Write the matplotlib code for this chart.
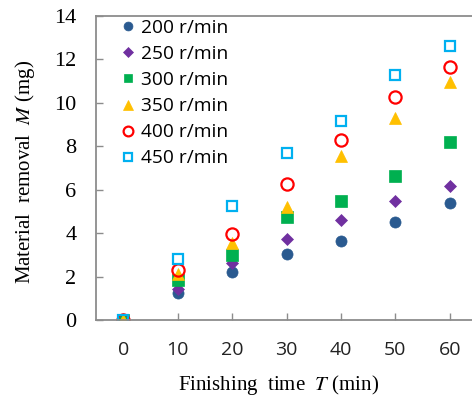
import matplotlib
matplotlib.use("Agg")
import matplotlib.pyplot as plt

times = [0, 10, 20, 30, 40, 50, 60]
labels = ["200 r/min", "250 r/min", "300 r/min", "350 r/min", "400 r/min", "450 r/min"]
m200 = [0, 1.23, 2.23, 3.04, 3.62, 4.53, 5.40]
m250 = [0, 1.41, 2.61, 3.72, 4.61, 5.47, 6.17]
m300 = [0, 1.84, 2.99, 4.76, 5.47, 6.65, 8.18]
m350 = [0, 2.10, 3.55, 5.20, 7.55, 9.29, 10.98]
m400 = [0, 2.30, 3.96, 6.28, 8.29, 10.27, 11.67]
m450 = [0, 2.80, 5.25, 7.71, 9.15, 11.29, 12.63]
yticks = [0, 2, 4, 6, 8, 10, 12, 14]
xticks = [0, 10, 20, 30, 40, 50, 60]

plt.rcParams['mathtext.fontset'] = 'stix'

W, H = 472, 397
fig = plt.figure(figsize=(W/100, H/100), dpi=100)
left, right, top, bottom = 96, 477, 16, 320
ax = fig.add_axes([left/W, 1-bottom/H, (right-left)/W, (bottom-top)/H])

styles = [
    dict(marker='o', mfc='#2A5A90', mec='#2A5A90', ms=8.0, mew=0.5),
    dict(marker='D', mfc='#7030A0', mec='#7030A0', ms=6.4, mew=0.5),
    dict(marker='s', mfc='#00B050', mec='#00B050', ms=8.0, mew=0.5),
    dict(marker='^', mfc='#FFC000', mec='#FFC000', ms=8.6, mew=0.5),
    dict(marker='o', mfc='none', mec='#FF0000', ms=8.8, mew=1.6),
    dict(marker='s', mfc='none', mec='#00B0F0', ms=7.4, mew=1.6),
]
series = [m200, m250, m300, m350, m400, m450]
for vals, lab, st in zip(series, labels, styles):
    ax.plot(times, vals, linestyle='none', label=lab, **st)

ax.set_xlim(-5, 65)
ax.set_ylim(0, 14)
ax.set_xticks(xticks)
ax.set_yticks(yticks)
for s in ['left', 'bottom', 'top']:
    ax.spines[s].set_color('#8c8c8c')
    ax.spines[s].set_linewidth(1.3)
ax.spines['right'].set_visible(False)
ax.tick_params(direction='in', length=5, color='#8c8c8c', width=1)
ax.tick_params(axis='x', pad=15)
ax.tick_params(axis='y', pad=14)
for t in ax.get_yticklabels():
    t.set_fontfamily('Liberation Serif')
    t.set_fontsize(16)
for t in ax.get_xticklabels():
    t.set_fontfamily('Open Sans')
    t.set_fontsize(14)
    t.set_color('#222222')

fig.text(279/W, 1-385/H, r"Finishing  time  $T$ (min)", fontfamily='Liberation Serif',
         fontsize=15, ha='center', va='center')
fig.text(25/W, 1-172/H, r"Material  removal  $M$ (mg)", fontfamily='Liberation Serif',
         fontsize=15, ha='center', va='center', rotation=90)

leg = ax.legend(loc='upper left', frameon=False, prop={'family': 'Open Sans', 'size': 13.8},
                handletextpad=0.15, labelspacing=0.42, borderaxespad=0.0, markerscale=0.8,
                bbox_to_anchor=(0.04, 1.015), handlelength=1.0)

fig.savefig("out.png", dpi=100)
